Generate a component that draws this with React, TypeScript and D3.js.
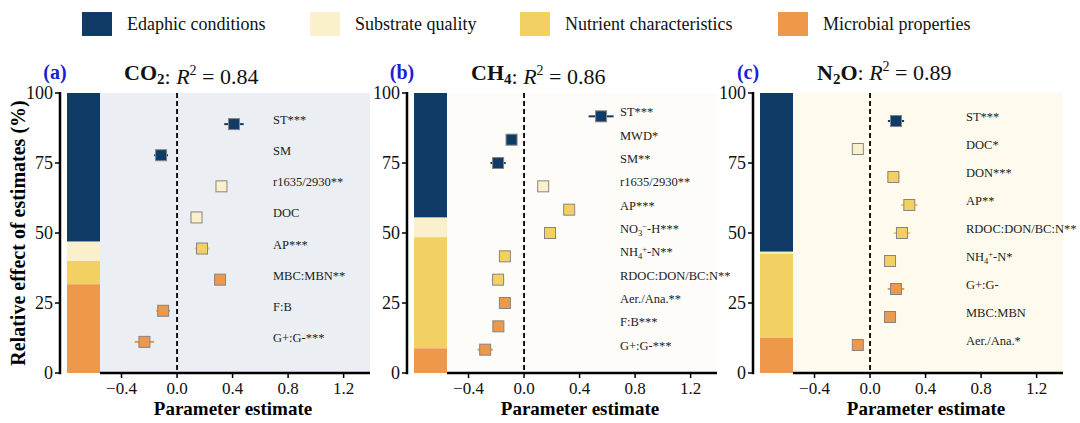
import React from 'react';
import * as d3 from 'd3';

const groupNames = ['Edaphic conditions', 'Substrate quality', 'Nutrient characteristics', 'Microbial properties'];
const groupColors = ['#0f3b66', '#fbf0cc', '#f2d162', '#ee984c'];

// CO2 panel
const co2Labels = ['ST***', 'SM', 'r1635/2930**', 'DOC', 'AP***', 'MBC:MBN**', 'F:B', 'G+:G-***'];
const co2Groups = [0, 0, 1, 1, 2, 3, 3, 3];
const co2Est = [0.41, -0.115, 0.32, 0.14, 0.18, 0.31, -0.1, -0.235];
const co2Err = [0.07, 0.05, 0.03, 0.03, 0.055, 0.03, 0.05, 0.07];
const co2Shares = [53.1, 6.9, 8.3, 31.7];

// CH4 panel
const ch4Labels = ['ST***', 'MWD*', 'SM**', 'r1635/2930**', 'AP***', 'NO{_3}{^−}-H***', 'NH{_4}{^+}-N**', 'RDOC:DON/BC:N**', 'Aer./Ana.**', 'F:B***', 'G+:G-***'];
const ch4Groups = [0, 0, 0, 1, 2, 2, 2, 2, 3, 3, 3];
const ch4Est = [0.555, -0.09, -0.187, 0.138, 0.325, 0.187, -0.138, -0.187, -0.138, -0.185, -0.28];
const ch4Err = [0.09, 0.035, 0.055, 0.03, 0.04, 0.04, 0.04, 0.045, 0.04, 0.04, 0.055];
const ch4Shares = [44.5, 7.0, 39.7, 8.8];

// N2O panel
const n2oLabels = ['ST***', 'DOC*', 'DON***', 'AP**', 'RDOC:DON/BC:N**', 'NH{_4}{^+}-N*', 'G+:G-', 'MBC:MBN', 'Aer./Ana.*'];
const n2oGroups = [0, 1, 2, 2, 2, 2, 3, 3, 3];
const n2oEst = [0.187, -0.088, 0.168, 0.283, 0.23, 0.144, 0.187, 0.144, -0.088];
const n2oErr = [0.058, 0.02, 0.045, 0.06, 0.06, 0.04, 0.06, 0.04, 0.04];
const n2oShares = [56.7, 0.7, 30.0, 12.6];

const yTicks = [0, 25, 50, 75, 100];
const xTicks = [-0.4, 0, 0.4, 0.8, 1.2];

const FONT = "'Liberation Serif', 'Times New Roman', serif";

const panels = [
  { tag: '(a)', gas: 'CO', gasSub: '2', gasTail: '', r2: '0.84', labels: co2Labels, groups: co2Groups, est: co2Est, err: co2Err, shares: co2Shares, bg: '#ebeff3', ox: 60 },
  { tag: '(b)', gas: 'CH', gasSub: '4', gasTail: '', r2: '0.86', labels: ch4Labels, groups: ch4Groups, est: ch4Est, err: ch4Err, shares: ch4Shares, bg: '#fdfcf9', ox: 407 },
  { tag: '(c)', gas: 'N', gasSub: '2', gasTail: 'O', r2: '0.89', labels: n2oLabels, groups: n2oGroups, est: n2oEst, err: n2oErr, shares: n2oShares, bg: '#fefbee', ox: 753 },
];

// "NO{_3}{^−}" -> tspans with sub/superscript
const richLabel = (s: string) => {
  const parts = s.split(/(\{[_^][^}]*\})/).filter(p => p.length);
  let shift = 0;
  return parts.map((p, i) => {
    if (p.startsWith('{_')) {
      const dy = 3 - shift;
      shift = 3;
      return <tspan key={i} fontSize={8.5} dy={dy}>{p.slice(2, -1)}</tspan>;
    }
    if (p.startsWith('{^')) {
      const dy = -4 - shift;
      shift = -4;
      return <tspan key={i} fontSize={8.5} dy={dy}>{p.slice(2, -1)}</tspan>;
    }
    const dy = -shift;
    shift = 0;
    return <tspan key={i} dy={dy}>{p}</tspan>;
  });
};

const top = 93;
const bottom = 373;
const barW = 33;
const plotW = 270;

const y = d3.scaleLinear().domain([0, 100]).range([bottom, top]);

const Panel = ({ p }: { p: typeof panels[number] }) => {
  const x0 = p.ox + 40;
  const x = d3.scaleLinear().domain([-0.555, 1.39]).range([x0, x0 + plotW]);
  const n = p.labels.length;
  const itemY = (i: number) => y((100 * (n - i)) / (n + 1));

  // stacked bar, edaphic on top
  let acc = 100;
  const segs = p.shares.map((v, gi) => {
    const s = { gi, y1: acc, y0: acc - v };
    acc -= v;
    return s;
  });

  return (
    <g>
      <rect x={x0} y={top} width={plotW} height={bottom - top} fill={p.bg} />
      {segs.map(s => (
        <rect key={s.gi} x={p.ox + 7} y={y(s.y1)} width={barW} height={y(s.y0) - y(s.y1)} fill={groupColors[s.gi]} />
      ))}
      <line x1={x(0)} x2={x(0)} y1={top} y2={bottom} stroke="#000" strokeWidth={1.8} strokeDasharray="5,3" />
      {p.est.map((e, i) => {
        const yy = itemY(i);
        const c = groupColors[p.groups[i]];
        return (
          <g key={i}>
            <line x1={x(e - p.err[i])} x2={x(e + p.err[i])} y1={yy} y2={yy} stroke={c} strokeWidth={2} />
            <rect x={x(e) - 5.5} y={yy - 5.5} width={11} height={11} fill={c} stroke="#858585" strokeWidth={1} />
            <text x={x0 + 173} y={yy} dy="0.35em" fontSize={12.5} fontFamily={FONT} fill="#222">{richLabel(p.labels[i])}</text>
          </g>
        );
      })}
      {/* y axis */}
      <line x1={p.ox} x2={p.ox} y1={top - 1} y2={bottom + 1.2} stroke="#000" strokeWidth={2.5} />
      {yTicks.map(t => (
        <g key={t}>
          <line x1={p.ox - 5} x2={p.ox} y1={y(t)} y2={y(t)} stroke="#000" strokeWidth={1.5} />
          <text x={p.ox - 7} y={y(t)} dy="0.35em" textAnchor="end" fontSize={18} fontFamily={FONT} fill="#111">{t}</text>
        </g>
      ))}
      {/* x axis */}
      <line x1={x0} x2={x0 + plotW} y1={bottom} y2={bottom} stroke="#000" strokeWidth={2.5} />
      {xTicks.map(t => (
        <g key={t}>
          <line x1={x(t)} x2={x(t)} y1={bottom} y2={bottom + 5} stroke="#000" strokeWidth={1.5} />
          <text x={x(t)} y={394} textAnchor="middle" fontSize={17} fontFamily={FONT} fill="#111">{t === 0 ? '0.0' : d3.format('.1f')(t)}</text>
        </g>
      ))}
      <text x={x0 + plotW / 2 - 2} y={415} textAnchor="middle" fontSize={19} fontWeight="bold" fontFamily={FONT}>Parameter estimate</text>
      {/* headings */}
      <text x={p.ox - 5} y={79} textAnchor="middle" fontSize={20} fontWeight="bold" fontFamily={FONT} fill="#1c1cd8">{p.tag}</text>
      <text x={p.ox + 64} y={80} fontSize={22} fontFamily={FONT} fill="#111">
        <tspan fontWeight="bold">{p.gas}</tspan>
        <tspan fontWeight="bold" fontSize={15} dy={4}>{p.gasSub}</tspan>
        <tspan fontWeight="bold" dy={-4}>{p.gasTail}</tspan>
        <tspan>: </tspan>
        <tspan fontStyle="italic">R</tspan>
        <tspan fontSize={14} dy={-9}>2</tspan>
        <tspan dy={9}>{' = ' + p.r2}</tspan>
      </text>
    </g>
  );
};

const legendX = [82, 310, 520, 778];

export default function App() {
  return (
    <div style={{ position: 'fixed', left: 0, top: 0 }}>
      <svg width={1080} height={423} style={{ display: 'block', background: '#fff' }}>
        {groupNames.map((g, i) => (
          <g key={g}>
            <rect x={legendX[i]} y={12} width={30} height={24} fill={groupColors[i]} />
            <text x={legendX[i] + 45} y={30} fontSize={18} fontFamily={FONT} fill="#111">{g}</text>
          </g>
        ))}
        {panels.map(p => <Panel key={p.tag} p={p} />)}
        <text transform={`translate(25,${(top + bottom) / 2}) rotate(-90)`} textAnchor="middle" fontSize={20} fontWeight="bold" fontFamily={FONT}>Relative effect of estimates (%)</text>
      </svg>
    </div>
  );
}
